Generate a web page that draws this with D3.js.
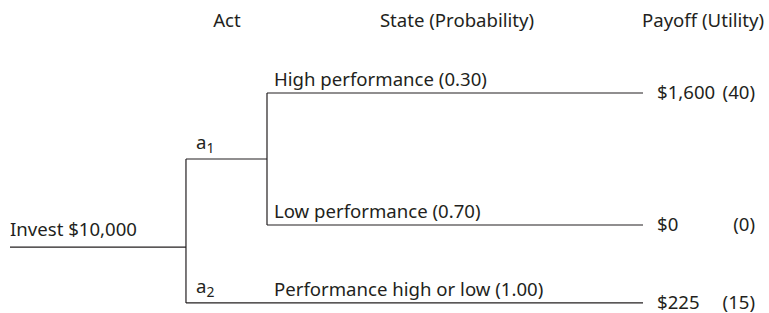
<!DOCTYPE html>
<html>
<head>
<meta charset="utf-8">
<script src="https://cdn.jsdelivr.net/npm/d3@7"></script>
<style>
  body { margin: 0; background: #fff; }
  text { font-family: "Noto Sans", "Open Sans", sans-serif; fill: #231f20; }
</style>
</head>
<body>
<script>
// Column headers
let headers = ['Act', 'State (Probability)', 'Payoff (Utility)'];
// Decision
let rootLabel = 'Invest $10,000';
let acts = ['1', '2'];
// States for each branch
let states = ['High performance', 'Low performance', 'Performance high or low'];
let probabilities = ['0.30', '0.70', '1.00'];
let payoffs = ['$1,600', '$0', '$225'];
let utilities = ['(40)', '(0)', '(15)'];
// which act each state belongs to
let stateAct = [0, 0, 1];

let width = 769, height = 313;
let fontSize = 18.6;

let svg = d3.select('body')
    .append('svg')
    .attr('width', width)
    .attr('height', height);

// Scales: x by stage of the tree, y by row
let xScale = d3.scaleLinear()
    .domain([0, 1])
    .range([10, 643]);

let stage = { root: 0, act: 0.278, state: 0.406, leaf: 1 };

let yScale = d3.scaleLinear()
    .domain([0, 1])
    .range([93, 225]);

// leaf rows; act 1 sits between its two states
let leafRow = [0, 1, 1.59];
let actRow = [(leafRow[0] + leafRow[1]) / 2, leafRow[2]];
let rootRow = 1.167;

let line = svg.append('g')
    .attr('stroke', '#231f20')
    .attr('stroke-width', 1.2)
    .attr('fill', 'none');

// root line
line.append('line')
    .attr('x1', xScale(stage.root)).attr('x2', xScale(stage.act))
    .attr('y1', yScale(rootRow)).attr('y2', yScale(rootRow));

// act vertical connector
line.append('line')
    .attr('x1', xScale(stage.act)).attr('x2', xScale(stage.act))
    .attr('y1', yScale(actRow[0])).attr('y2', yScale(actRow[1]));

// act 1 branch to state node
line.append('line')
    .attr('x1', xScale(stage.act)).attr('x2', xScale(stage.state))
    .attr('y1', yScale(actRow[0])).attr('y2', yScale(actRow[0]));

// state vertical connector for act 1
line.append('line')
    .attr('x1', xScale(stage.state)).attr('x2', xScale(stage.state))
    .attr('y1', yScale(leafRow[0])).attr('y2', yScale(leafRow[1]));

// leaf lines
line.selectAll('.leaf')
    .data(states)
    .enter()
    .append('line')
    .attr('class', 'leaf')
    .attr('x1', (d, i) => stateAct[i] === 0 ? xScale(stage.state) : xScale(stage.act))
    .attr('x2', xScale(stage.leaf))
    .attr('y1', (d, i) => yScale(leafRow[i]))
    .attr('y2', (d, i) => yScale(leafRow[i]));

// Headers
let headerX = [227, 457, 703];
svg.selectAll('.header')
    .data(headers)
    .enter()
    .append('text')
    .attr('class', 'header')
    .attr('x', (d, i) => headerX[i])
    .attr('y', 27)
    .attr('text-anchor', 'middle')
    .attr('font-size', fontSize)
    .text(d => d);

// Root label
svg.append('text')
    .attr('x', xScale(stage.root))
    .attr('y', yScale(rootRow) - 11)
    .attr('font-size', fontSize)
    .text(rootLabel);

// Act labels with subscripts
let actText = svg.selectAll('.act')
    .data(acts)
    .enter()
    .append('text')
    .attr('class', 'act')
    .attr('x', xScale(stage.act) + 10)
    .attr('y', (d, i) => yScale(actRow[i]) - 10)
    .attr('font-size', fontSize);
actText.append('tspan').text('a');
actText.append('tspan')
    .attr('dy', 4)
    .attr('font-size', fontSize * 0.75)
    .text(d => d);

// State labels
svg.selectAll('.state')
    .data(states)
    .enter()
    .append('text')
    .attr('class', 'state')
    .attr('x', xScale(stage.state) + 7)
    .attr('y', (d, i) => yScale(leafRow[i]) - 7)
    .attr('font-size', fontSize)
    .text((d, i) => `${d} (${probabilities[i]})`);

// Payoffs
svg.selectAll('.payoff')
    .data(payoffs)
    .enter()
    .append('text')
    .attr('class', 'payoff')
    .attr('x', xScale(stage.leaf) + 14)
    .attr('y', (d, i) => yScale(leafRow[i]) + 6)
    .attr('font-size', fontSize)
    .text(d => d);

// Utilities, right aligned
svg.selectAll('.utility')
    .data(utilities)
    .enter()
    .append('text')
    .attr('class', 'utility')
    .attr('x', 755)
    .attr('y', (d, i) => yScale(leafRow[i]) + 6)
    .attr('text-anchor', 'end')
    .attr('font-size', fontSize)
    .text(d => d);
</script>
</body>
</html>
